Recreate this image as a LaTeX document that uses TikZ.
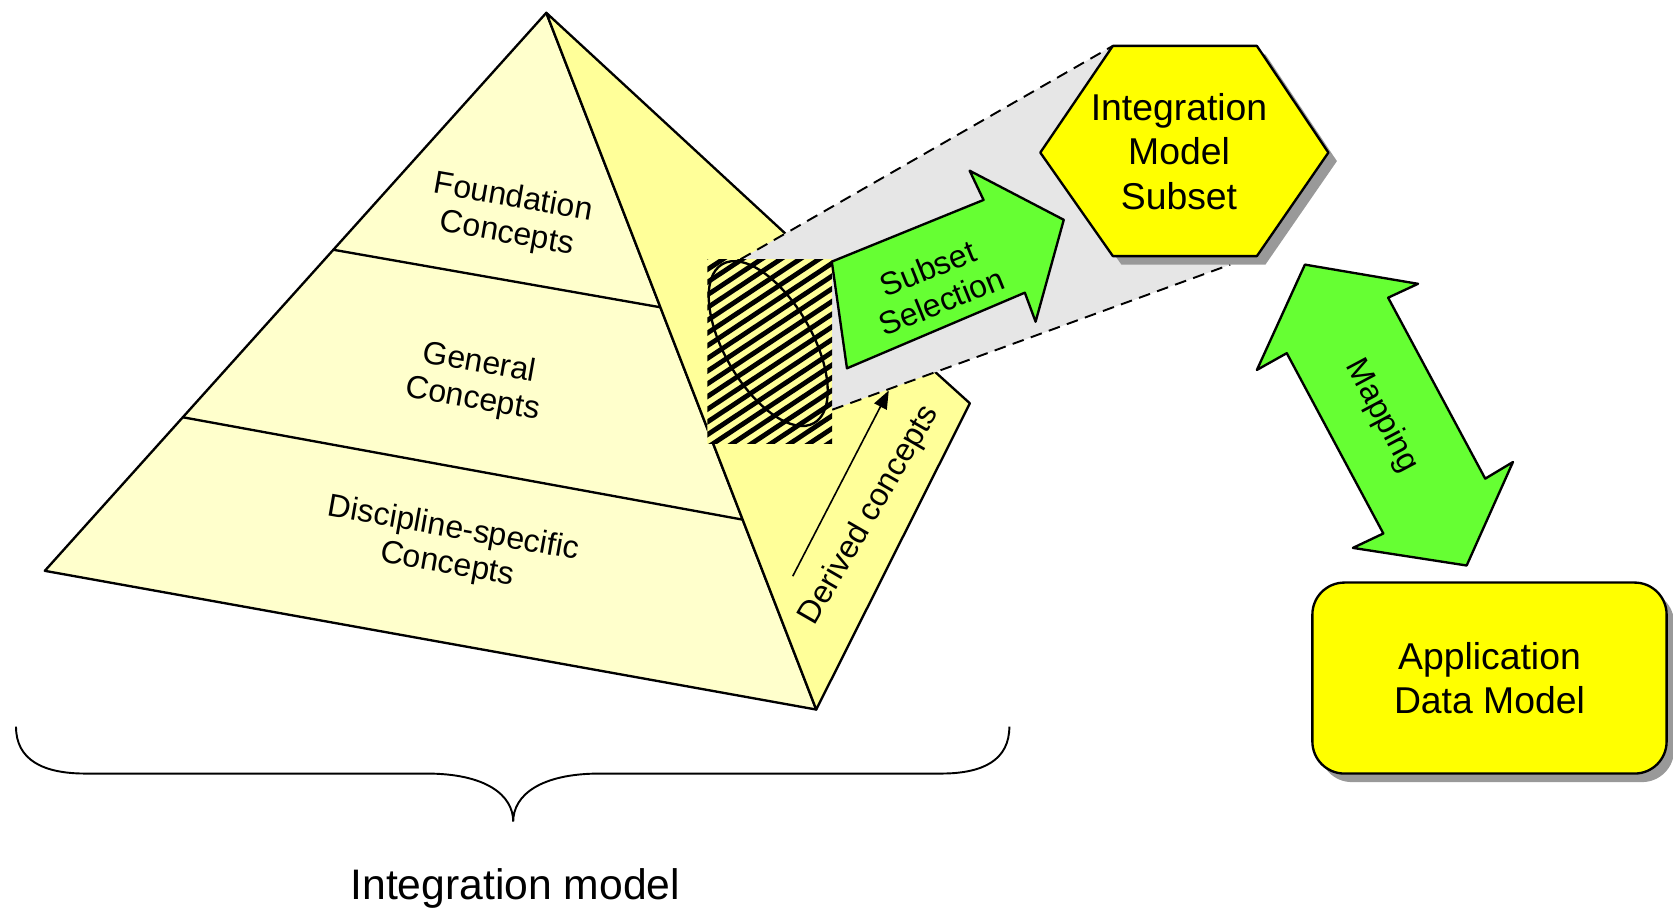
\documentclass[tikz,border=0pt]{standalone}
\usepackage{fontspec}
\setmainfont{Liberation Sans}
\usetikzlibrary{arrows.meta}
\definecolor{paleyellow}{HTML}{FFFFCC}
\definecolor{faceyellow}{HTML}{FFFF99}
\definecolor{boxyellow}{HTML}{FFFF00}
\definecolor{arrowgreen}{HTML}{66FF33}
\definecolor{zoomgrey}{HTML}{E6E6E6}
\definecolor{shadowgrey}{HTML}{999999}
\newcommand*{\midtext}{\fontsize{30}{34}\selectfont}
\newcommand*{\bigtext}{\fontsize{35}{41.5}\selectfont}
\newcommand{\hexpath}{(1043,43) -- (1178,43) -- (1245,143) -- (1178,240) -- (1043,240) -- (975,143) -- cycle}

\begin{document}
\begin{tikzpicture}[x=1pt,y=-1pt,
    outline/.style={draw=black,line width=2.2pt,line join=round},
    zoomline/.style={line width=1.8pt,dash pattern=on 11pt off 7pt}]
  \useasboundingbox (0,0) rectangle (1568,852);
  % pyramid
  \coordinate (apex) at (512,12);
  \coordinate (left) at (42,535);
  \coordinate (front) at (765,665);
  \coordinate (back) at (878,350);
  \coordinate (notch) at (909,378);
  \draw[outline,fill=paleyellow] (apex) -- (left) -- (front) -- cycle;
  \draw[outline,fill=faceyellow] (apex) -- (back) -- (notch) -- (front) -- cycle;
  \draw[outline] (312,234) -- (619,288);
  \draw[outline] (171,391) -- (696,487);
  \node[font=\midtext,rotate=-10,align=center] (foundation) at (478,203) {Foundation\\Concepts};
  \node[font=\midtext,rotate=-10,align=center] (general) at (446,358) {General\\Concepts};
  \node[font=\midtext,rotate=-10,align=center] (discipline) at (422,513) {Discipline-specific\\Concepts};
  % zoom into the subset
  \coordinate (hatchtl) at (663,243);
  \coordinate (hatchbr) at (780,416);
  \coordinate (zoomtop) at (694,243);
  \coordinate (zoombot) at (780,384);
  \coordinate (hextl) at (1043,43);
  \coordinate (hexbr) at (1153,248);
  \fill[zoomgrey] (zoomtop) -- (hextl) -- (1178,43) -- (1245,143) -- (1178,240)
    -- (hexbr) -- (zoombot) -- (780,243) -- cycle;
  \draw[zoomline] (zoomtop) -- (hextl);
  \draw[zoomline] (zoombot) -- (hexbr);
  \begin{scope}
    \clip (hatchtl) rectangle (hatchbr);
    \fill[faceyellow] (hatchtl) rectangle (hatchbr);
    \foreach \k in {0,...,22}
      \draw[line width=4.5pt] ({392+18*\k},420) -- ++(272,-180);
  \end{scope}
  \draw[line width=2.2pt,rotate around={-60:(720,322)}] (720,322) ellipse [x radius=86, y radius=41];
  % subset selection
  \draw[outline,fill=arrowgreen] (779.6,245.2) -- (921.8,187.4) -- (908.8,160) -- (997,206)
    -- (970.6,301.5) -- (960.5,274.3) -- (793.8,345.2) -- cycle;
  \node[font=\midtext,rotate=22,align=center] (selection) at (876,267) {Subset\\Selection};
  \fill[shadowgrey,shift={(8,8)}] \hexpath;
  \draw[outline,fill=boxyellow] \hexpath;
  \node[font=\bigtext,align=center] (subsetmodel) at (1105,142) {Integration\\Model\\Subset};
  % derived concepts
  \coordinate (derivedfoot) at (743,540);
  \coordinate (derivedtip) at (833,366);
  \draw[line width=1.5pt,-{Triangle[length=17pt,width=13pt]}] (derivedfoot) -- (derivedtip);
  \node[font=\midtext,rotate=60] (derived) at (815,483) {Derived concepts};
  % mapping
  \draw[outline,fill=arrowgreen] (1223,248) -- (1329,266) -- (1301,279) -- (1392,448.6)
    -- (1418,433) -- (1374.6,530) -- (1268,513.5) -- (1296.5,500) -- (1206,331)
    -- (1178,346.7) -- cycle;
  \node[font=\midtext,rotate=-62] (mapping) at (1295,390) {Mapping};
  \fill[shadowgrey,rounded corners=30pt] (1237,554) rectangle (1569,733);
  \node[outline,fill=boxyellow,rounded corners=30pt,minimum width=332pt,minimum height=179pt,
    font=\bigtext,align=center] (appmodel) at (1396,635.5) {Application\\Data Model};
  % brace
  \draw[line width=1.8pt] (15,681) .. controls (15,712) and (40,725) .. (80,725) -- (400,725)
    .. controls (455,725) and (481,745) .. (481,770)
    .. controls (481,745) and (507,725) .. (562,725) -- (882,725)
    .. controls (922,725) and (946,712) .. (946,681);
  \node[font=\fontsize{40}{48}\selectfont] (intmodel) at (483,833) {Integration model};
\end{tikzpicture}
\end{document}
